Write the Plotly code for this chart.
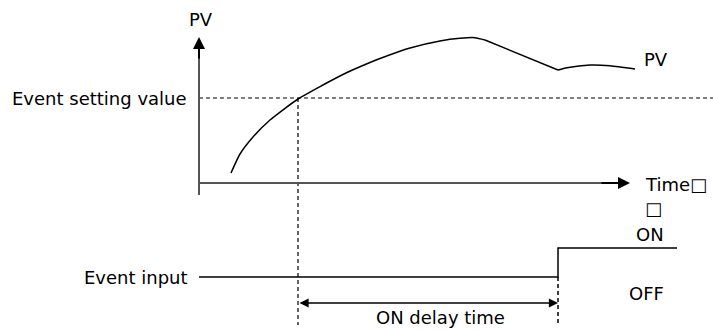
import plotly.graph_objects as go

# PV curve (pixel-like units, y grows downward)
pv_x = [231, 240, 253, 270, 298, 322, 347, 370, 380, 410, 440, 460, 475, 485, 558, 567, 590, 610, 635]
pv_y = [173, 154, 137, 120, 99, 85.5, 72.5, 62.5, 58.5, 48, 41, 38.3, 37.7, 40, 70, 67.7, 65, 65.7, 69]
peak_end = 13   # index where the straight drop starts
dip = 14        # index of the dip (sharp corner)

# key levels / instants of the diagram
setting_level = 98      # event setting value
cross_time = 298        # PV crosses the setting value
on_time = 558           # event input switches ON
axis_origin = (199, 183)
time_end = 630
pv_top = 37
off_level = 277
on_level = 248
input_end = 677
delay_arrow_y = 303

labels = {
    "PV": (201, 19),
    "Event setting value": (189, 98),
    "PV ": (642, 59),
    "Time\u25a1": (643, 184),
    "\u25a1": (643, 208),
    "ON": (650, 234),
    "OFF": (646, 293),
    "Event input": (190, 277),
    "ON delay time": (440, 317),
}

FONT = dict(family="DejaVu Sans, Arial, sans-serif", size=18, color="black")
AXIS_COL = "#555555"

fig = go.Figure()

# dashed setting level and dashed time markers
fig.add_trace(go.Scatter(x=[axis_origin[0], 713], y=[setting_level, setting_level], mode="lines",
                         line=dict(color="black", width=1.2, dash="4px,3px")))
fig.add_trace(go.Scatter(x=[cross_time, cross_time], y=[setting_level, 325], mode="lines",
                         line=dict(color="black", width=1.2, dash="4px,3px")))
fig.add_trace(go.Scatter(x=[on_time, on_time], y=[off_level, 325], mode="lines",
                         line=dict(color="black", width=1.5, dash="4px,3px")))

# PV curve: smooth rise, straight drop, smooth tail
fig.add_trace(go.Scatter(x=pv_x[:peak_end + 1], y=pv_y[:peak_end + 1], mode="lines",
                         line=dict(color="black", width=1.5, shape="spline", smoothing=0.6)))
fig.add_trace(go.Scatter(x=pv_x[peak_end:dip + 1], y=pv_y[peak_end:dip + 1], mode="lines",
                         line=dict(color="black", width=1.5)))
fig.add_trace(go.Scatter(x=pv_x[dip:], y=pv_y[dip:], mode="lines",
                         line=dict(color="black", width=1.5, shape="spline", smoothing=0.6)))

# y axis stub below the time axis
fig.add_trace(go.Scatter(x=[axis_origin[0], axis_origin[0]], y=[195, 46], mode="lines",
                         line=dict(color=AXIS_COL, width=2)))
# time axis
fig.add_trace(go.Scatter(x=[axis_origin[0], time_end - 10], y=[axis_origin[1], axis_origin[1]], mode="lines",
                         line=dict(color=AXIS_COL, width=2)))

# event input signal
fig.add_trace(go.Scatter(x=[axis_origin[0], on_time, on_time, input_end],
                         y=[off_level, off_level, on_level, on_level], mode="lines",
                         line=dict(color="black", width=1.5)))

annotations = []
# arrowheads for axes
annotations.append(dict(x=axis_origin[0], y=pv_top, ax=axis_origin[0], ay=60, xref="x", yref="y",
                        axref="x", ayref="y", showarrow=True, arrowhead=2, arrowsize=1.2,
                        arrowwidth=2, arrowcolor="black", text=""))
annotations.append(dict(x=time_end, y=axis_origin[1], ax=600, ay=axis_origin[1], xref="x", yref="y",
                        axref="x", ayref="y", showarrow=True, arrowhead=2, arrowsize=1.2,
                        arrowwidth=2, arrowcolor="black", text=""))
# ON delay double arrow
annotations.append(dict(x=on_time, y=delay_arrow_y, ax=cross_time, ay=delay_arrow_y, xref="x", yref="y",
                        axref="x", ayref="y", showarrow=True, arrowhead=2, startarrowhead=2,
                        arrowside="end+start", arrowsize=1.4, startarrowsize=1.4,
                        arrowwidth=1.3, arrowcolor="black", text=""))

anchors = {
    "PV": "center", "Event setting value": "right", "PV ": "left", "Time\u25a1": "left",
    "\u25a1": "left", "ON": "center", "OFF": "center", "Event input": "right", "ON delay time": "center",
}
for txt, (lx, ly) in labels.items():
    annotations.append(dict(x=lx, y=ly, xref="x", yref="y", text=txt.strip(), showarrow=False,
                            xanchor=anchors[txt], yanchor="middle", font=FONT))

fig.update_layout(
    width=713, height=329,
    margin=dict(l=0, r=0, t=0, b=0),
    paper_bgcolor="white", plot_bgcolor="white",
    showlegend=False,
    xaxis=dict(range=[0, 713], visible=False, fixedrange=True),
    yaxis=dict(range=[329, 0], visible=False, fixedrange=True),
    annotations=annotations,
)

# drop the default page margin so the figure sits at the window corner
fig.write_html("out.html", config=dict(displayModeBar=False),
               post_script="document.body.style.margin='0px';")
